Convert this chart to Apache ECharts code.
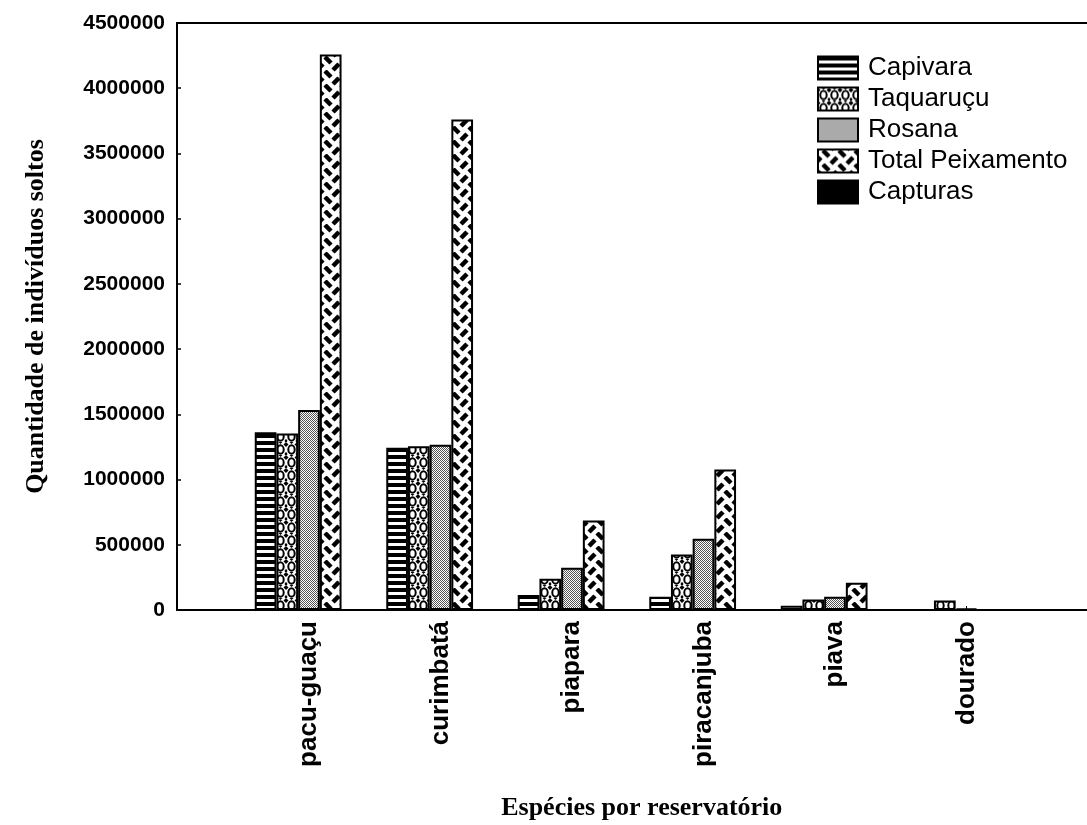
<!DOCTYPE html>
<html><head><meta charset="utf-8">
<script src="https://cdn.jsdelivr.net/npm/echarts/dist/echarts.min.js"></script>
<style>html,body{margin:0;padding:0;background:#fff}#c{width:1087px;height:825px}</style>
</head><body><div id="c"></div>
<script>
// ---- data ----
const categories = ['pacu-guaçu', 'curimbatá', 'piapara', 'piracanjuba', 'piava', 'dourado'];
const seriesNames = ['Capivara', 'Taquaruçu', 'Rosana', 'Total Peixamento', 'Capturas'];
const capivara = [1363000, 1243000, 115000, 101000, 32000, null];
const taquarucu = [1353000, 1256000, 239000, 425000, 80000, 73000];
const rosana = [1533000, 1266000, 323000, 546000, 101000, 12000];
const totalPeixamento = [4259000, 3760000, 686000, 1077000, 208000, null];
const capturas = [0, 0, 0, 0, 0, 0];
const yMin = 0, yMax = 4500000, yInterval = 500000;
const yTitle = 'Quantidade de indivíduos soltos';
const xTitle = 'Espécies por reservatório';

// ---- patterns ----
function tile(w, h, draw) {
  const c = document.createElement('canvas');
  c.width = w; c.height = h;
  const ctx = c.getContext('2d');
  ctx.fillStyle = '#fff'; ctx.fillRect(0, 0, w, h);
  ctx.fillStyle = '#000'; ctx.strokeStyle = '#000';
  draw(ctx, w, h);
  return { image: c, repeat: 'repeat' };
}
const pStripes = tile(8, 7, (ctx) => { ctx.fillRect(0, 0, 8, 4); });
const pRings = tile(11, 13, (ctx) => {
  ctx.lineWidth = 2;
  ctx.beginPath(); ctx.ellipse(5.5, 7.5, 3.2, 4.2, 0, 0, Math.PI * 2); ctx.stroke();
  ctx.beginPath(); ctx.moveTo(0, 0); ctx.lineTo(2.5, 2.5); ctx.lineTo(0, 5); ctx.closePath(); ctx.fill();
  ctx.beginPath(); ctx.moveTo(11, 0); ctx.lineTo(8.5, 2.5); ctx.lineTo(11, 5); ctx.closePath(); ctx.fill();
  ctx.beginPath(); ctx.moveTo(3.5, 0); ctx.lineTo(5.5, 2); ctx.lineTo(7.5, 0); ctx.closePath(); ctx.fill();
  ctx.fillRect(0, 10.5, 1.2, 2.5); ctx.fillRect(9.8, 10.5, 1.2, 2.5);
});
const pChecker = tile(2, 2, (ctx) => {
  ctx.fillStyle = '#555'; ctx.fillRect(0, 0, 1, 1); ctx.fillRect(1, 1, 1, 1);
});
const pZig = tile(16, 14, (ctx) => {
  ctx.lineWidth = 4.5; ctx.lineCap = 'butt';
  ctx.beginPath(); ctx.moveTo(5, 1); ctx.lineTo(11, 7); ctx.stroke();
  ctx.beginPath(); ctx.moveTo(-3, 14); ctx.lineTo(3, 8); ctx.stroke();
  ctx.beginPath(); ctx.moveTo(13, 14); ctx.lineTo(19, 8); ctx.stroke();
  ctx.beginPath(); ctx.moveTo(-3, 0); ctx.lineTo(3, -6); ctx.stroke();
  ctx.beginPath(); ctx.moveTo(13, 0); ctx.lineTo(19, -6); ctx.stroke();
});
const fills = [pStripes, pRings, pChecker, pZig, '#000'];
const values = [capivara, taquarucu, rosana, totalPeixamento, capturas];

const sans = 'Liberation Sans, Arial, sans-serif';
const serif = 'Liberation Serif, Times New Roman, serif';
const frameLine = { show: true, onZero: false, lineStyle: { color: '#000', width: 2 } };

const chart = echarts.init(document.getElementById('c'), null, { renderer: 'canvas' });
chart.setOption({
  animation: false,
  backgroundColor: '#fff',
  grid: [
    { left: 177, right: 0, top: 23, bottom: 215, outerBoundsMode: 'none', containLabel: false },
    { left: 243.25, right: 54.75, top: 23, bottom: 215, outerBoundsMode: 'none', containLabel: false }
  ],
  legend: {
    orient: 'vertical', left: 812, top: 50,
    itemWidth: 40, itemHeight: 23, itemGap: 5, icon: 'rect',
    textStyle: { fontSize: 26, fontFamily: sans, color: '#000', padding: [0, 0, 0, 5] },
    data: seriesNames
  },
  xAxis: [
    { gridIndex: 0, type: 'value', position: 'bottom', min: 0, max: 1, axisLine: frameLine,
      axisTick: { show: false }, axisLabel: { show: false }, splitLine: { show: false } },
    { gridIndex: 0, type: 'value', position: 'top', min: 0, max: 1, axisLine: frameLine,
      axisTick: { show: false }, axisLabel: { show: false }, splitLine: { show: false } },
    { gridIndex: 1, type: 'category', data: categories, position: 'bottom',
      axisLine: { show: false },
      axisTick: { show: true, inside: true, alignWithLabel: true, length: 4, lineStyle: { color: '#000', width: 1 } },
      axisLabel: { rotate: 90, interval: 0, fontSize: 26, fontWeight: 'bold', fontFamily: sans, color: '#000', margin: 11 },
      name: xTitle, nameLocation: 'middle', nameGap: 185,
      nameTextStyle: { fontFamily: serif, fontWeight: 'bold', fontSize: 26, color: '#000', padding: [0, 0, 0, 8] } }
  ],
  yAxis: [
    { gridIndex: 0, type: 'value', min: yMin, max: yMax, interval: yInterval,
      axisLine: { show: true, lineStyle: { color: '#000', width: 2 } },
      axisTick: { show: true, inside: true, length: 4, lineStyle: { color: '#000', width: 1.5 } },
      axisLabel: { fontSize: 21, fontWeight: 'bold', fontFamily: sans, color: '#000', margin: 12,
        formatter: (v) => String(v) },
      splitLine: { show: false },
      name: yTitle, nameLocation: 'middle', nameRotate: 90, nameGap: 128,
      nameTextStyle: { fontFamily: serif, fontWeight: 'bold', fontSize: 26, color: '#000' } },
    { gridIndex: 1, type: 'value', min: yMin, max: yMax, interval: yInterval, show: false }
  ],
  series: seriesNames.map((n, i) => ({
    name: n, type: 'bar', xAxisIndex: 2, yAxisIndex: 1,
    barGap: '0%', barCategoryGap: '17.5%',
    itemStyle: { color: fills[i], borderColor: '#000', borderWidth: 2 },
    emphasis: { disabled: true },
    data: values[i]
  }))
});
</script></body></html>
